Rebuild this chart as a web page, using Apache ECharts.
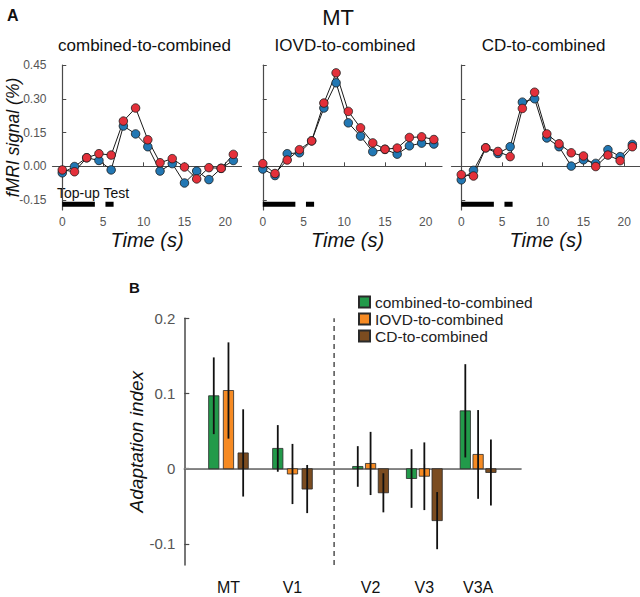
<!DOCTYPE html>
<html>
<head>
<meta charset="utf-8">
<script src="https://cdn.jsdelivr.net/npm/echarts@6/dist/echarts.min.js"></script>
<style>
html, body { margin: 0; padding: 0; background: #fff; }
#chart { width: 640px; height: 597px; }
</style>
</head>
<body>
<div id="chart"></div>
<script>
// panel A: MT time courses (red / blue conditions)
var timeS = [0, 1.5, 3, 4.5, 6, 7.5, 9, 10.5, 12, 13.5, 15, 16.5, 18, 19.5, 21];
var combinedRed  = [-0.016, -0.024, 0.038, 0.056, 0.050, 0.201, 0.259, 0.118, 0.016, 0.034, -0.003, -0.056, -0.006, -0.009, 0.053];
var combinedBlue = [-0.029, -0.001, 0.038, 0.026, -0.016, 0.179, 0.144, 0.087, -0.021, 0.012, -0.074, -0.021, -0.059, -0.009, 0.026];
var iovdRed  = [0.012, -0.032, 0.028, 0.074, 0.113, 0.281, 0.415, 0.244, 0.171, 0.104, 0.076, 0.081, 0.128, 0.131, 0.119];
var iovdBlue = [-0.012, -0.041, 0.056, 0.060, 0.113, 0.259, 0.371, 0.193, 0.134, 0.065, 0.075, 0.054, 0.091, 0.103, 0.099];
var cdRed  = [-0.037, -0.043, 0.082, 0.066, 0.043, 0.257, 0.329, 0.144, 0.100, 0.060, 0.046, -0.001, 0.050, 0.025, 0.087];
var cdBlue = [-0.060, -0.018, 0.082, 0.057, 0.087, 0.285, 0.300, 0.126, 0.087, 0.001, 0.029, 0.013, 0.074, 0.043, 0.097];
var panelTitles = ['combined-to-combined', 'IOVD-to-combined', 'CD-to-combined'];
var signalTicks = [-0.15, 0, 0.15, 0.30, 0.45];
var timeTicks = [0, 5, 10, 15, 20];
var topupWindow = [0, 4];
var testWindow = [5.3, 6.3];
var stimLevel = -0.168;

// panel B: adaptation index
var areaNames = ['MT', 'V1', 'V2', 'V3', 'V3A'];
var areaPos = [1, 2, 3.22, 4.06, 4.9];
var dividerPos = 2.65;
var adaptTicks = [-0.1, 0, 0.1, 0.2];
var conditionNames = ['combined-to-combined', 'IOVD-to-combined', 'CD-to-combined'];
var adaptCombined = [0.097, 0.027, 0.003, -0.013, 0.077];
var adaptIOVD     = [0.104, -0.007, 0.007, -0.010, 0.019];
var adaptCD       = [0.021, -0.027, -0.032, -0.069, -0.005];
var errCombined = [0.051, 0.031, 0.027, 0.039, 0.062];
var errIOVD     = [0.064, 0.040, 0.042, 0.045, 0.059];
var errCD       = [0.058, 0.032, 0.026, 0.038, 0.044];

var FONT = 'Liberation Sans, Arial, Helvetica, sans-serif';
var AXIS_COLOR = '#4a4a4a';
var RED = '#e3303a';
var BLUE = '#2277b3';
var BAR_COLORS = ['#229a4a', '#f68a22', '#7b4c20'];

var myChart = echarts.init(document.getElementById('chart'), null, { renderer: 'svg' });

var gridLefts = [52.5, 253, 451.5];
var grids = [], xAxes = [], yAxes = [], series = [], graphics = [];
var redSets = [combinedRed, iovdRed, cdRed];
var blueSets = [combinedBlue, iovdBlue, cdBlue];

function pairs(ys) {
    return timeS.map(function (t, i) { return [t, ys[i]]; });
}

for (var p = 0; p < 3; p++) {
    grids.push({ left: gridLefts[p], top: 65, width: 189, height: 145, outerBoundsMode: 'none', containLabel: false });
    xAxes.push({
        type: 'value', gridIndex: p, min: -1.2, max: 22,
        name: 'Time (s)', nameLocation: 'middle', nameGap: 20, nameMoveOverlap: false,
        nameTextStyle: { fontFamily: FONT, fontStyle: 'italic', fontSize: 20, color: '#111' },
        axisLine: { lineStyle: { color: AXIS_COLOR, width: 1.2 } },
        axisTick: { inside: true, length: 4, customValues: timeTicks, lineStyle: { color: AXIS_COLOR } },
        axisLabel: { customValues: timeTicks, fontFamily: FONT, fontSize: 12, color: '#555', margin: 6 },
        splitLine: { show: false }
    });
    yAxes.push({
        type: 'value', gridIndex: p, min: -0.194, max: 0.45,
        name: p === 0 ? 'fMRI signal (%)' : '', nameLocation: 'middle', nameRotate: 90, nameGap: 31,
        nameMoveOverlap: false,
        nameTextStyle: { fontFamily: FONT, fontStyle: 'italic', fontSize: 17.5, lineHeight: 18, color: '#111' },
        axisLine: { show: true, lineStyle: { color: AXIS_COLOR, width: 1.2 } },
        axisTick: { show: true, inside: true, length: 4, customValues: signalTicks, lineStyle: { color: AXIS_COLOR } },
        axisLabel: {
            show: p === 0, customValues: signalTicks, fontFamily: FONT, fontSize: 12, color: '#555', margin: 6,
            formatter: function (v) { return v.toFixed(2); }
        },
        splitLine: { show: false }
    });
    series.push({
        type: 'line', xAxisIndex: p, yAxisIndex: p, silent: true, symbol: 'none',
        lineStyle: { color: '#000', width: 5, cap: 'butt' },
        data: [[topupWindow[0], stimLevel], [topupWindow[1], stimLevel], [5, '-'], [testWindow[0], stimLevel], [testWindow[1], stimLevel]]
    });
    series.push({
        type: 'line', name: 'blue' + p, xAxisIndex: p, yAxisIndex: p, silent: true,
        symbol: 'circle', symbolSize: 8.5,
        itemStyle: { color: BLUE, borderColor: '#1a1a1a', borderWidth: 0.8 },
        lineStyle: { color: '#1a1a1a', width: 1 },
        data: pairs(blueSets[p])
    });
    series.push({
        type: 'line', name: 'red' + p, xAxisIndex: p, yAxisIndex: p, silent: true,
        symbol: 'circle', symbolSize: 8.5,
        itemStyle: { color: RED, borderColor: '#1a1a1a', borderWidth: 0.8 },
        lineStyle: { color: '#1a1a1a', width: 1 },
        data: pairs(redSets[p])
    });
    graphics.push({
        type: 'text', x: gridLefts[p] + 92, y: 45,
        style: { text: panelTitles[p], fontFamily: FONT, fontSize: 17, fill: '#111', align: 'center', verticalAlign: 'middle' }
    });
}

// panel B
var B_MIN = -0.128, B_MAX = 0.2, X_MIN = 0.31, X_MAX = 5.57;
grids.push({ left: 184.3, top: 318.3, width: 336.7, height: 246.7, outerBoundsMode: 'none', containLabel: false });
xAxes.push({
    type: 'value', gridIndex: 3, min: X_MIN, max: X_MAX,
    axisLine: { lineStyle: { color: AXIS_COLOR, width: 1.5 } },
    axisTick: { inside: true, length: 5, customValues: areaPos, lineStyle: { color: AXIS_COLOR, width: 1.2 } },
    axisLabel: {
        customValues: areaPos, fontFamily: FONT, fontSize: 16, color: '#111', margin: 14,
        formatter: function (v) { return areaNames[areaPos.indexOf(v)]; }
    },
    splitLine: { show: false }
});
yAxes.push({
    type: 'value', gridIndex: 3, min: B_MIN, max: B_MAX,
    name: 'Adaptation index', nameLocation: 'middle', nameRotate: 90, nameGap: 38, nameMoveOverlap: false,
    nameTextStyle: { fontFamily: FONT, fontStyle: 'italic', fontSize: 19, color: '#111' },
    axisLine: { show: true, lineStyle: { color: AXIS_COLOR, width: 1.5 } },
    axisTick: { show: true, inside: true, length: 5, customValues: adaptTicks, lineStyle: { color: AXIS_COLOR, width: 1.2 } },
    axisLabel: { customValues: adaptTicks, fontFamily: FONT, fontSize: 15, color: '#555', margin: 9 },
    splitLine: { show: false }
});

series.push({
    type: 'line', xAxisIndex: 3, yAxisIndex: 3, silent: true, symbol: 'none', z: 1,
    lineStyle: { color: '#8a8a8a', width: 1.5 },
    data: [[X_MIN, 0], [X_MAX, 0]]
});
series.push({
    type: 'line', xAxisIndex: 3, yAxisIndex: 3, silent: true, symbol: 'none', z: 1,
    lineStyle: { color: '#222', width: 1.2, type: [5, 4] },
    data: [[dividerPos, B_MIN], [dividerPos, B_MAX]]
});

function barSeries(k, vals, errs) {
    return {
        type: 'custom', name: conditionNames[k], xAxisIndex: 3, yAxisIndex: 3, z: 3,
        itemStyle: { color: BAR_COLORS[k], borderColor: '#2a2a2a', borderWidth: 0.8 },
        data: vals.map(function (v, i) { return [i, v, errs[i]]; }),
        renderItem: function (params, api) {
            var i = api.value(0), v = api.value(1), e = api.value(2);
            var spread = i < 2 ? 14.7 : 12.8;
            var base = api.coord([areaPos[i], 0]);
            var top = api.coord([areaPos[i], v]);
            var hi = api.coord([areaPos[i], v + e]);
            var lo = api.coord([areaPos[i], v - e]);
            var cx = base[0] + (k - 1) * spread;
            return {
                type: 'group',
                children: [
                    {
                        type: 'rect',
                        shape: { x: cx - 5.15, y: Math.min(base[1], top[1]), width: 10.3, height: Math.abs(top[1] - base[1]) },
                        style: { fill: BAR_COLORS[k], stroke: '#2a2a2a', lineWidth: 0.8 }
                    },
                    {
                        type: 'line',
                        shape: { x1: cx, y1: hi[1], x2: cx, y2: lo[1] },
                        style: { stroke: '#111', lineWidth: 1.8 }
                    }
                ]
            };
        }
    };
}
series.push(barSeries(0, adaptCombined, errCombined));
series.push(barSeries(1, adaptIOVD, errIOVD));
series.push(barSeries(2, adaptCD, errCD));

graphics.push(
    { type: 'text', x: 7, y: 15, style: { text: 'A', fontFamily: FONT, fontSize: 16, fontWeight: 'bold', fill: '#111', verticalAlign: 'middle' } },
    { type: 'text', x: 338, y: 17, style: { text: 'MT', fontFamily: FONT, fontSize: 22, fill: '#111', align: 'center', verticalAlign: 'middle' } },
    { type: 'text', x: 57, y: 193, style: { text: 'Top-up Test', fontFamily: FONT, fontSize: 14, fill: '#111', verticalAlign: 'middle' } },
    { type: 'text', x: 129, y: 287, style: { text: 'B', fontFamily: FONT, fontSize: 15, fontWeight: 'bold', fill: '#111', verticalAlign: 'middle' } }
);

var option = {
    animation: false,
    backgroundColor: '#fff',
    grid: grids,
    xAxis: xAxes,
    yAxis: yAxes,
    legend: {
        data: conditionNames, orient: 'vertical', left: 358, top: 294,
        icon: 'rect', itemWidth: 11, itemHeight: 11, itemGap: 1, padding: 0,
        textStyle: { fontFamily: FONT, fontSize: 15.5, color: '#222' }
    },
    graphic: graphics,
    series: series
};

option && myChart.setOption(option);
</script>
</body>
</html>
